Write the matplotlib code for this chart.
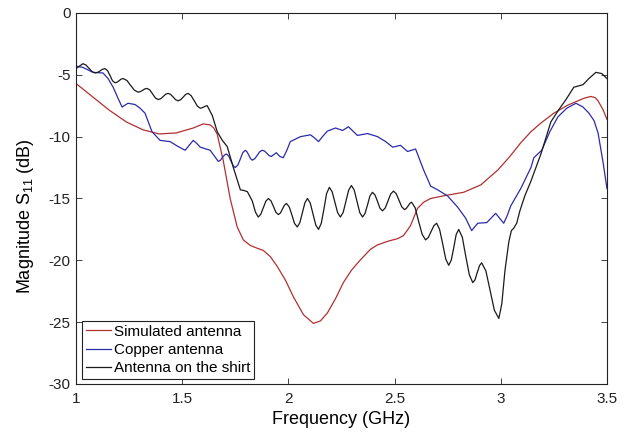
import matplotlib
matplotlib.use('Agg')
import matplotlib.pyplot as plt

# ---- data ----
sim_f = [1.000, 1.080, 1.156, 1.236, 1.316, 1.392, 1.472, 1.552, 1.599, 1.632, 1.649, 1.665, 1.693,
         1.726, 1.759, 1.788, 1.821, 1.850, 1.882, 1.915, 1.948, 1.986, 2.024, 2.071, 2.118, 2.151,
         2.184, 2.222, 2.259, 2.297, 2.340, 2.387, 2.420, 2.470, 2.514, 2.542, 2.575, 2.608, 2.637,
         2.670, 2.741, 2.825, 2.906, 2.986, 3.038, 3.094, 3.142, 3.189, 3.250, 3.316, 3.377, 3.400,
         3.425, 3.445, 3.458, 3.481, 3.500]
sim_m = [-5.7, -6.8, -7.85, -8.8, -9.45, -9.78, -9.7, -9.3, -8.97, -9.05, -9.3, -9.8, -11.9,
         -15.0, -17.3, -18.35, -18.8, -19.0, -19.2, -19.7, -20.5, -21.6, -22.96, -24.4, -25.1, -24.9,
         -24.25, -23.1, -21.8, -20.8, -19.95, -19.1, -18.75, -18.45, -18.25, -18.0, -17.2, -15.8, -15.3,
         -15.0, -14.75, -14.5, -13.9, -12.7, -11.7, -10.5, -9.6, -8.9, -8.1, -7.45, -7.0, -6.85,
         -6.75, -6.85, -7.1, -7.8, -8.6]

cu_f = [1.000, 1.033, 1.080, 1.127, 1.151, 1.175, 1.198, 1.217, 1.245, 1.278, 1.302, 1.325, 1.358,
        1.396, 1.443, 1.476, 1.514, 1.533, 1.552, 1.569, 1.585, 1.632, 1.651, 1.670, 1.680, 1.689,
        1.699, 1.708, 1.719, 1.729, 1.740, 1.750, 1.762, 1.774, 1.785, 1.797, 1.805, 1.814, 1.822,
        1.830, 1.842, 1.854, 1.865, 1.877, 1.888, 1.899, 1.909, 1.920, 1.943, 1.960, 1.976, 1.993,
        2.009, 2.057, 2.104, 2.123, 2.142, 2.163, 2.184, 2.222, 2.255, 2.283, 2.304, 2.325, 2.373,
        2.420, 2.458, 2.491, 2.528, 2.561, 2.599, 2.637, 2.670, 2.703, 2.750, 2.797, 2.835, 2.863,
        2.877, 2.892, 2.934, 2.976, 2.995, 3.014, 3.030, 3.047, 3.094, 3.142, 3.156, 3.193, 3.231,
        3.269, 3.311, 3.354, 3.387, 3.415, 3.439, 3.458, 3.481, 3.500]
cu_m = [-4.3, -4.4, -4.8, -4.85, -5.3, -6.0, -6.9, -7.6, -7.3, -7.4, -7.7, -8.1, -9.6,
        -10.3, -10.4, -10.75, -11.1, -10.7, -10.3, -10.55, -10.85, -11.1, -11.55, -12.0, -11.91, -11.7,
        -11.49, -11.4, -11.56, -11.95, -12.34, -12.5, -12.3, -11.8, -11.3, -11.1, -11.22, -11.5, -11.78,
        -11.9, -11.78, -11.5, -11.22, -11.1, -11.17, -11.35, -11.53, -11.6, -11.3, -11.6, -11.7, -11.1,
        -10.4, -10.0, -9.85, -10.1, -10.4, -9.95, -9.55, -9.3, -9.5, -9.2, -9.55, -9.9, -9.75,
        -10.0, -10.4, -10.85, -10.7, -11.2, -11.0, -12.7, -14.0, -14.3, -14.8, -15.7, -16.6, -17.6,
        -17.3, -17.0, -16.95, -16.2, -16.6, -17.0, -16.4, -15.6, -14.2, -12.5, -11.7, -11.1, -9.6,
        -8.4, -7.7, -7.3, -7.6, -8.1, -8.7, -9.7, -12.0, -14.2]

sh_f = [1.000, 1.016, 1.033, 1.047, 1.062, 1.076, 1.090, 1.102, 1.114, 1.125, 1.137, 1.149, 1.161,
        1.172, 1.184, 1.193, 1.203, 1.212, 1.222, 1.240, 1.257, 1.275, 1.292, 1.303, 1.314, 1.324,
        1.335, 1.348, 1.361, 1.374, 1.387, 1.399, 1.411, 1.422, 1.434, 1.446, 1.458, 1.469, 1.481,
        1.493, 1.505, 1.516, 1.528, 1.542, 1.557, 1.571, 1.585, 1.593, 1.602, 1.610, 1.618, 1.642,
        1.665, 1.689, 1.712, 1.741, 1.774, 1.790, 1.807, 1.830, 1.845, 1.858, 1.870, 1.882, 1.894,
        1.906, 1.918, 1.930, 1.941, 1.953, 1.963, 1.972, 1.982, 1.991, 2.004, 2.017, 2.029, 2.042,
        2.054, 2.066, 2.078, 2.090, 2.103, 2.116, 2.129, 2.142, 2.155, 2.168, 2.180, 2.193, 2.206,
        2.219, 2.232, 2.245, 2.258, 2.271, 2.284, 2.297, 2.310, 2.323, 2.336, 2.349, 2.361, 2.373,
        2.384, 2.396, 2.408, 2.420, 2.431, 2.443, 2.456, 2.469, 2.482, 2.495, 2.508, 2.521, 2.534,
        2.547, 2.555, 2.564, 2.572, 2.580, 2.597, 2.613, 2.630, 2.646, 2.659, 2.672, 2.685, 2.698,
        2.712, 2.727, 2.741, 2.755, 2.767, 2.779, 2.790, 2.802, 2.819, 2.835, 2.852, 2.868, 2.879,
        2.889, 2.900, 2.910, 2.930, 2.950, 2.970, 2.991, 3.005, 3.020, 3.038, 3.050, 3.061, 3.075,
        3.090, 3.113, 3.142, 3.189, 3.236, 3.274, 3.307, 3.344, 3.387, 3.415, 3.448, 3.476, 3.500]
sh_m = [-4.5, -4.3, -4.1, -4.21, -4.48, -4.74, -4.85, -4.8, -4.68, -4.55, -4.5, -4.67, -5.08,
        -5.48, -5.65, -5.6, -5.48, -5.35, -5.3, -5.46, -5.85, -6.24, -6.4, -6.36, -6.25, -6.14,
        -6.1, -6.23, -6.55, -6.87, -7.0, -6.93, -6.75, -6.57, -6.5, -6.59, -6.8, -7.01, -7.1,
        -7.01, -6.8, -6.59, -6.5, -6.68, -7.1, -7.52, -7.7, -7.67, -7.6, -7.53, -7.5, -8.3,
        -9.6, -10.3, -10.8, -12.5, -14.3, -14.35, -14.45, -15.2, -16.1, -16.5, -16.28, -15.75, -15.22,
        -15.0, -15.19, -15.65, -16.11, -16.3, -16.17, -15.85, -15.53, -15.4, -15.68, -16.35, -17.02, -17.3,
        -16.96, -16.15, -15.34, -15.0, -15.37, -16.25, -17.14, -17.5, -17.0, -15.8, -14.6, -14.1, -14.45,
        -15.3, -16.15, -16.5, -16.13, -15.23, -14.32, -13.95, -14.32, -15.23, -16.13, -16.5, -16.21, -15.5,
        -14.79, -14.5, -14.72, -15.25, -15.78, -16.0, -15.77, -15.2, -14.63, -14.4, -14.62, -15.15, -15.68,
        -15.9, -15.81, -15.6, -15.39, -15.3, -15.75, -16.83, -17.9, -18.35, -18.15, -17.68, -17.2, -17.0,
        -17.5, -18.7, -19.9, -20.4, -19.98, -18.95, -17.92, -17.5, -18.13, -19.65, -21.17, -21.8, -21.57,
        -21.0, -20.43, -20.2, -20.86, -22.45, -24.04, -24.7, -23.5, -20.8, -18.5, -17.6, -17.4, -17.0,
        -16.0, -14.8, -13.6, -11.4, -8.8, -7.8, -7.0, -6.0, -5.8, -5.3, -4.8, -4.9, -5.3]

series_labels = ['Simulated antenna', 'Copper antenna', 'Antenna on the shirt']
x_ticks = [1, 1.5, 2, 2.5, 3, 3.5]
x_tick_labels = ['1', '1.5', '2', '2.5', '3', '3.5']
y_ticks = [-30, -25, -20, -15, -10, -5, 0]

# ---- style ----
plt.rcParams['font.family'] = ['Liberation Sans', 'DejaVu Sans']
plt.rcParams['mathtext.fontset'] = 'custom'
plt.rcParams['mathtext.rm'] = 'Liberation Sans'

fig = plt.figure(figsize=(6.31, 4.36), dpi=100)
ax = fig.add_axes([0.1204, 0.1193, 0.8415, 0.8509])

ax.plot(sim_f, sim_m, color='#B03030', lw=0.9, label=series_labels[0])
ax.plot(cu_f, cu_m, color='#2B2BA8', lw=0.9, label=series_labels[1])
ax.plot(sh_f, sh_m, color='#1a1a1a', lw=0.9, label=series_labels[2])

ax.set_xlim(1, 3.5)
ax.set_ylim(-30, 0)
ax.set_xticks(x_ticks)
ax.set_xticklabels(x_tick_labels)
ax.set_yticks(y_ticks)
ax.set_yticklabels([str(v) for v in y_ticks])
ax.tick_params(direction='in', top=True, right=True, length=4, width=0.6, labelsize=11,
               colors='#222222')
ax.tick_params(axis='x', pad=6)
ax.tick_params(axis='y', pad=4)
for s in ax.spines.values():
    s.set_linewidth(0.8)
    s.set_color('#222222')

ax.set_xlabel('Frequency (GHz)', fontsize=13)
ax.xaxis.set_label_coords(0.5, -0.073)
ax.set_ylabel(r'Magnitude S$_{\mathrm{11}}$ (dB)', fontsize=13)
ax.yaxis.set_label_coords(-0.075, 0.453)

leg = ax.legend(loc='lower left', bbox_to_anchor=(0.0113, 0.0135), borderaxespad=0,
                fontsize=11, fancybox=False, framealpha=1, edgecolor='#222222',
                handlelength=1.65, handletextpad=0.2, labelspacing=0.28, borderpad=0.25)
leg.get_frame().set_linewidth(0.8)

fig.savefig('out.png', dpi=100)
